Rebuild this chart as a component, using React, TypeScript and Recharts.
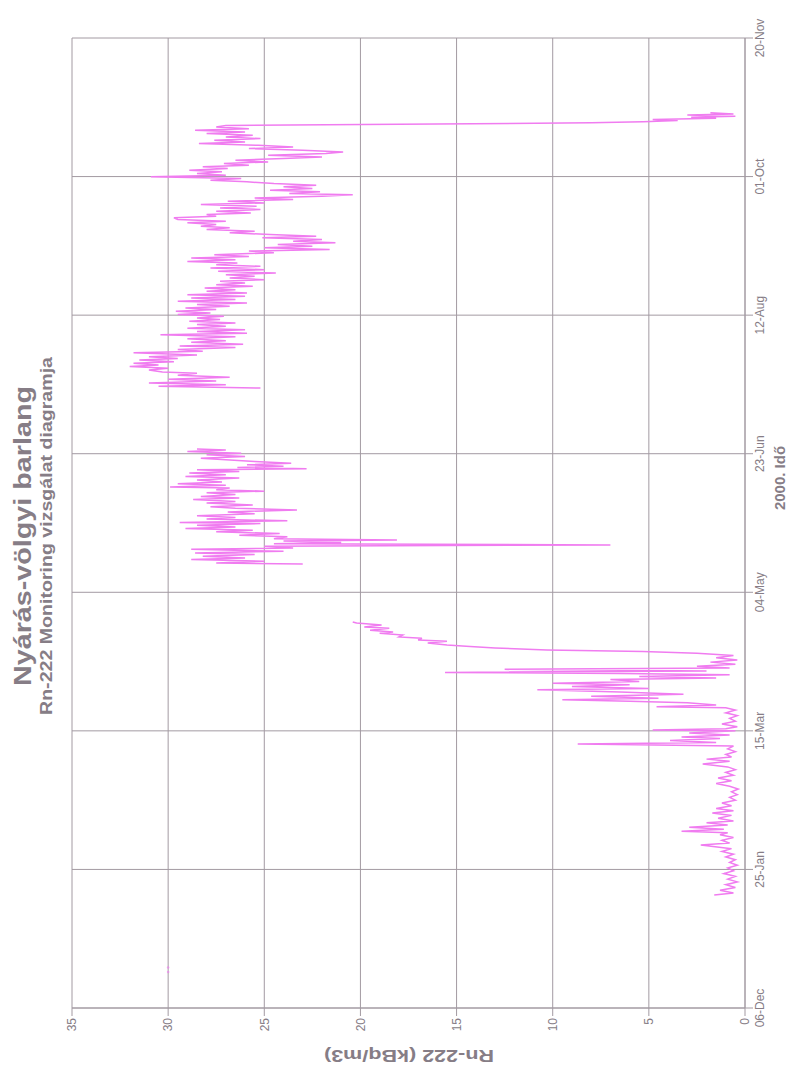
import { ComposedChart, Line, Scatter, XAxis, YAxis, CartesianGrid } from 'recharts'

// x = days since 06-Dec-1999, y = Rn-222 (kBq/m3)
const dateTicks = [0, 50, 100, 150, 200, 250, 300, 350]
const dateLabels = ['06-Dec', '25-Jan', '15-Mar', '04-May', '23-Jun', '12-Aug', '01-Oct', '20-Nov']
const rnTicks = [0, 5, 10, 15, 20, 25, 30, 35]

const springRun: [number, number][] = [
  [40.8, 1.6], [41.5, 0.6], [42.5, 1.3], [43.5, 0.5], [44.5, 1.0], [45.5, 0.4], [46.5, 0.9], [47.5, 0.5],
  [48.5, 1.1], [49.5, 0.6], [50.5, 0.9], [51.5, 0.4], [52.5, 0.8], [53.5, 0.5], [54.5, 1.0], [55.5, 0.6],
  [56.5, 1.2], [57.5, 0.7], [58.8, 2.3], [59.5, 0.8], [60.5, 1.2], [61.5, 0.6], [62.5, 1.3], [63.2, 0.9],
  [63.8, 3.3], [64.5, 1.1], [65.2, 2.9], [66.0, 0.9], [66.8, 2.0], [67.5, 0.6], [68.5, 1.4], [69.5, 0.7],
  [70.4, 1.7], [71.2, 0.6], [72.0, 1.5], [73.0, 0.7], [74.0, 1.2], [75.0, 0.5], [76.0, 0.8], [77.0, 0.4],
  [78.0, 0.7], [79.0, 0.35], [80.0, 0.8], [81.0, 1.5], [82.0, 0.7], [83.0, 1.4], [84.0, 0.6], [85.0, 1.0],
  [86.0, 0.5], [87.0, 0.9], [88.0, 2.2], [89.0, 0.8], [89.8, 2.0], [90.6, 0.7], [91.5, 1.0], [92.5, 0.5],
  [93.5, 0.9], [94.5, 0.6], [95.3, 8.7], [95.8, 1.5], [96.5, 3.9], [97.2, 1.3], [97.8, 3.3], [98.5, 0.8],
  [99.2, 2.9], [100.0, 0.5], [100.3, 4.8], [100.8, 1.0], [101.5, 0.4], [102.5, 1.2], [103.5, 0.5], [104.5, 0.8],
  [105.5, 0.4], [106.5, 1.0], [107.5, 0.5], [108.3, 1.0], [108.7, 4.6], [109.3, 1.5], [110.1, 3.0], [110.7, 6.0],
  [111.2, 9.5], [111.8, 4.5], [112.5, 8.0], [113.2, 3.2], [114.0, 6.5], [114.8, 10.8], [115.3, 5.0], [116.0, 9.0],
  [116.6, 6.0], [117.2, 10.0], [117.8, 5.5], [118.5, 7.0], [119.1, 1.5], [119.6, 5.5], [120.2, 0.8], [120.7, 6.5],
  [121.1, 15.6], [121.6, 2.0], [122.2, 12.5], [122.7, 0.8], [123.3, 2.5], [124.0, 0.5], [124.8, 1.8], [125.6, 0.4],
  [126.4, 1.5], [127.2, 0.6], [128.0, 2.5], [128.6, 5.3], [129.2, 10.3], [129.9, 13.0], [130.5, 14.5], [131.0, 15.5],
  [131.7, 16.5], [132.3, 15.5], [132.8, 17.0], [133.4, 16.8], [133.9, 18.0], [134.6, 17.8], [135.2, 19.0], [135.7, 18.3],
  [136.3, 19.5], [137.0, 18.5], [137.5, 19.8], [138.2, 18.9], [138.9, 20.2], [139.3, 20.4],
]

const summerRun: [number, number][] = [
  [160.2, 23.0], [160.6, 27.5], [161.2, 25.0], [161.8, 28.8], [162.4, 26.0], [163.0, 28.2], [163.6, 25.5], [164.2, 28.6],
  [164.8, 24.0], [165.5, 28.8], [166.0, 23.5], [166.6, 25.0], [167.1, 7.0], [167.5, 24.5], [168.0, 21.0], [168.5, 24.0],
  [168.9, 18.1], [169.3, 24.5], [170.0, 23.8], [170.6, 26.3], [171.2, 24.2], [171.8, 27.5], [172.4, 25.6], [173.0, 29.1],
  [173.6, 26.5], [174.2, 28.5], [174.8, 25.2], [175.2, 29.4], [175.8, 23.8], [176.4, 28.0], [177.0, 26.5], [177.6, 28.5],
  [178.3, 25.5], [179.0, 26.9], [179.7, 23.3], [180.3, 26.5], [180.9, 27.8], [181.5, 25.6], [182.2, 28.0], [182.8, 26.5],
  [183.5, 28.7], [184.0, 26.3], [184.6, 28.3], [185.3, 26.5], [185.9, 28.0], [186.5, 25.0], [187.0, 27.5], [187.6, 26.8],
  [188.0, 29.9], [188.6, 27.0], [189.2, 29.5], [189.8, 27.2], [190.5, 28.5], [191.2, 26.3], [191.8, 29.1], [192.4, 27.0],
  [193.0, 28.9], [193.6, 26.3], [194.2, 28.5], [194.6, 22.8], [195.0, 26.4], [195.5, 24.0], [196.0, 25.9], [196.6, 23.6],
  [197.2, 25.5], [197.8, 27.0], [198.4, 28.3], [199.0, 26.0], [199.6, 28.0], [200.2, 26.2], [200.8, 29.0], [201.3, 27.0],
  [201.7, 28.5],
]

const autumnRun: [number, number][] = [
  [223.7, 25.2], [224.3, 30.5], [224.9, 27.0], [225.5, 31.0], [226.2, 27.5], [226.9, 30.0], [227.6, 26.8], [228.3, 29.5],
  [229.0, 28.5], [229.5, 30.3], [230.2, 31.0], [230.8, 30.0], [231.5, 32.0], [232.0, 30.5], [232.6, 31.8], [233.2, 29.7],
  [233.8, 31.5], [234.4, 29.5], [235.0, 31.0], [235.6, 28.5], [236.4, 31.8], [237.0, 28.2], [237.6, 29.5], [238.3, 26.5],
  [238.9, 29.4], [239.5, 26.1], [240.2, 28.8], [240.8, 27.0], [241.5, 29.0], [242.2, 26.5], [242.9, 30.4], [243.5, 25.9],
  [244.1, 28.5], [244.7, 26.0], [245.3, 29.0], [246.0, 27.0], [246.6, 28.5], [247.2, 26.5], [247.8, 28.9], [248.4, 27.3],
  [249.0, 28.5], [249.6, 27.1], [250.2, 29.5], [250.8, 27.8], [251.4, 29.6], [252.0, 27.5], [252.6, 29.1], [253.2, 26.8],
  [253.8, 28.5], [254.4, 25.9], [255.0, 29.5], [255.6, 26.5], [256.2, 28.8], [256.8, 26.0], [257.4, 29.0], [258.0, 25.9],
  [258.6, 28.0], [259.2, 26.5], [259.8, 28.1], [260.4, 25.6], [261.0, 27.5], [261.6, 26.0], [262.2, 27.3], [262.8, 25.0],
  [263.4, 26.8], [264.0, 25.5], [264.6, 27.0], [265.2, 24.4], [265.8, 27.4], [266.4, 25.0], [267.0, 27.8], [267.6, 25.2],
  [268.2, 27.5], [268.8, 26.4], [269.4, 29.0], [270.0, 26.5], [270.6, 28.8], [271.2, 25.8], [271.8, 27.6], [272.5, 24.5],
  [273.1, 25.8], [273.7, 21.6], [274.3, 25.0], [274.9, 22.5], [275.5, 24.3], [276.1, 21.3], [276.7, 23.5], [277.3, 22.0],
  [277.9, 25.1], [278.5, 22.3], [279.1, 24.7], [279.7, 26.8], [280.3, 25.5], [280.9, 28.0], [281.5, 26.8], [282.1, 28.3],
  [282.7, 27.5], [283.3, 29.0], [283.9, 27.0], [284.5, 29.5], [285.1, 29.7], [285.7, 27.5], [286.3, 28.0], [286.9, 25.7],
  [287.5, 27.5], [288.1, 25.2], [288.7, 27.3], [289.3, 25.4], [289.9, 28.3], [290.5, 25.0], [291.1, 26.9], [291.7, 23.5],
  [292.3, 25.5], [292.9, 22.0], [293.4, 20.4], [293.9, 23.7], [294.5, 22.1], [295.1, 24.7], [295.7, 22.5], [296.3, 24.0],
  [296.9, 22.3], [297.5, 24.5], [298.1, 25.9], [298.7, 27.8], [299.3, 26.2], [299.9, 30.9], [300.5, 27.0], [301.1, 28.5],
  [301.7, 27.2], [302.3, 28.9], [302.9, 26.9], [303.5, 28.2], [304.1, 25.8], [304.7, 27.1], [305.3, 24.8], [305.9, 26.5],
  [306.5, 24.0], [307.1, 22.0], [307.7, 24.8], [308.3, 21.8], [308.9, 20.9], [309.5, 23.0], [310.1, 25.8], [310.7, 23.5],
  [311.3, 25.3], [311.9, 28.4], [312.5, 26.0], [313.1, 27.6], [313.7, 25.2], [314.3, 27.0], [314.9, 25.6], [315.5, 28.0],
  [316.1, 26.0], [316.7, 28.6], [317.3, 25.8], [317.9, 27.5], [318.4, 27.0], [318.9, 18.0], [319.4, 8.0], [319.8, 5.3],
  [320.2, 3.5], [320.6, 4.8], [321.0, 1.5], [321.4, 2.8], [321.8, 0.5], [322.2, 3.0], [322.6, 0.6], [323.0, 1.8],
]

const strayPoints: [number, number][] = [[13.0, 30], [14.6, 30]]

const toRows = (run: [number, number][]) => run.map(([day, rn]) => ({ day, rn }))

const data = [
  ...toRows(springRun),
  { day: 150, rn: null },
  ...toRows(summerRun),
  { day: 212, rn: null },
  ...toRows(autumnRun),
]

const FONT = '"Liberation Sans", Arial, sans-serif'
const GRID = '#a39aa2'
const TEXT = '#867d86'
const PINK = '#f07cf0'

export default function App() {
  return (
    <div style={{ position: 'absolute', left: 0, top: 0, width: 798, height: 1073, overflow: 'hidden', background: '#fff' }}>
      <div
        style={{
          position: 'absolute',
          left: 0,
          top: 0,
          width: 1073,
          height: 798,
          transformOrigin: '0 0',
          transform: 'translateY(1073px) rotate(-90deg)',
        }}
      >
        <ComposedChart width={1073} height={798} data={data} margin={{ top: 72, right: 38, left: 0, bottom: 0 }}>
          <CartesianGrid stroke={GRID} strokeWidth={1} />
          <XAxis
            dataKey="day"
            type="number"
            domain={[0, 350]}
            ticks={dateTicks}
            interval={0}
            height={53}
            tickSize={8}
            stroke={GRID}
            tick={{ fill: TEXT, fontSize: 12, fontFamily: FONT }}
            tickFormatter={(v: number) => dateLabels[dateTicks.indexOf(v)]}
          />
          <YAxis
            type="number"
            domain={[0, 35]}
            ticks={rnTicks}
            interval={0}
            width={65}
            tickSize={8}
            stroke={GRID}
            tick={{ fill: TEXT, fontSize: 12, fontFamily: FONT }}
          />
          <Line
            dataKey="rn"
            stroke={PINK}
            strokeWidth={1.5}
            dot={false}
            connectNulls={false}
            isAnimationActive={false}
          />
          <Scatter
            data={toRows(strayPoints)}
            dataKey="rn"
            fill={PINK}
            shape={(p: any) => <circle cx={p.cx} cy={p.cy} r={1.3} fill={PINK} opacity={0.6} />}
            isAnimationActive={false}
          />
        </ComposedChart>
        <svg width={1073} height={798} style={{ position: 'absolute', left: 0, top: 0, pointerEvents: 'none' }}>
          <g fontFamily={FONT} fontWeight="bold" fill={TEXT} textAnchor="middle">
            <text x={537} y={31} fontSize={24} textLength={300} lengthAdjust="spacingAndGlyphs">
              Nyárás-völgyi barlang
            </text>
            <text x={537} y={52} fontSize={17} textLength={358} lengthAdjust="spacingAndGlyphs">
              Rn-222 Monitoring vizsgálat diagramja
            </text>
            <text x={595} y={785} fontSize={15}>2000. Idő</text>
            <text
              x={18}
              y={409}
              fontSize={17}
              dominantBaseline="central"
              textLength={170}
              lengthAdjust="spacingAndGlyphs"
              transform="rotate(-90, 18, 409)"
            >
              Rn-222 (kBq/m3)
            </text>
          </g>
        </svg>
      </div>
    </div>
  )
}
